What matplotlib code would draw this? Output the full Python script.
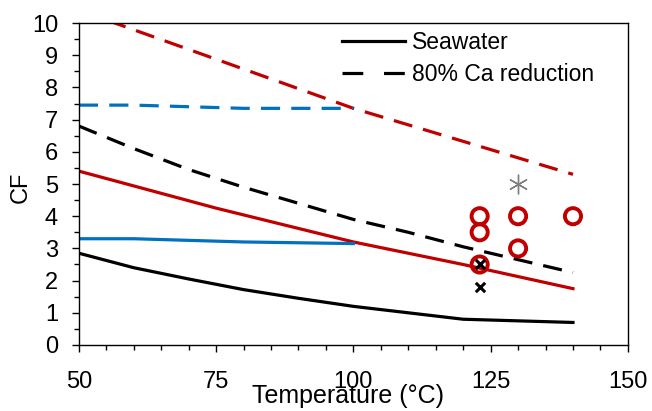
import matplotlib
matplotlib.use("Agg")
import matplotlib.pyplot as plt
from matplotlib.ticker import MultipleLocator

plt.rcParams['font.family'] = ['Liberation Sans', 'DejaVu Sans']

# Data
sw_black_x = [50, 60, 70, 80, 90, 100, 110, 120, 130, 140]
sw_black_y = [2.85, 2.4, 2.05, 1.72, 1.45, 1.2, 1.0, 0.8, 0.75, 0.7]
ca_black_x = [50, 60, 70, 80, 90, 100, 110, 120, 130, 140]
ca_black_y = [6.8, 6.1, 5.45, 4.9, 4.4, 3.9, 3.5, 3.05, 2.65, 2.25]
sw_red_x = [50, 75, 100, 120, 140]
sw_red_y = [5.4, 4.25, 3.2, 2.5, 1.75]
ca_red_x = [50, 100, 140]
ca_red_y = [10.4, 7.35, 5.3]
sw_blue_x = [50, 60, 80, 100]
sw_blue_y = [3.3, 3.3, 3.2, 3.15]
ca_blue_x = [50, 60, 80, 100]
ca_blue_y = [7.45, 7.45, 7.35, 7.35]
circ_x = [123, 123, 130, 130, 140, 123]
circ_y = [4.0, 3.5, 4.0, 3.0, 4.0, 2.5]
cross_x = [123, 123]
cross_y = [2.5, 1.8]
star_x = [130]
star_y = [5.0]

RED = '#C00000'
BLUE = '#0070C0'

fig = plt.figure(figsize=(6.52, 4.11), dpi=100)
ax = fig.add_axes([0.121, 0.1606, 0.842, 0.7834])

dash = (0, (6, 3.5))
lw = 2.3
ax.plot(sw_black_x, sw_black_y, color='black', lw=lw, label='Seawater')
ax.plot(ca_black_x, ca_black_y, color='black', lw=lw, linestyle=dash, label='80% Ca reduction')
ax.plot(sw_red_x, sw_red_y, color=RED, lw=lw)
ax.plot(ca_red_x, ca_red_y, color=RED, lw=lw, linestyle=dash)
ax.plot(sw_blue_x, sw_blue_y, color=BLUE, lw=lw)
ax.plot(ca_blue_x, ca_blue_y, color=BLUE, lw=lw, linestyle=dash)

ax.scatter(circ_x, circ_y, s=135, facecolors='none', edgecolors=RED, linewidths=2.8, zorder=5)
ax.scatter(cross_x, cross_y, s=45, marker='x', color='black', linewidths=2.2, zorder=6)
ax.scatter(star_x, star_y, s=180, marker=(6, 2, 0), color='#808080', linewidths=1.0, zorder=6)

ax.set_xlim(50, 150)
ax.set_ylim(0, 10)
ax.xaxis.set_major_locator(MultipleLocator(25))
ax.xaxis.set_minor_locator(MultipleLocator(5))
ax.yaxis.set_major_locator(MultipleLocator(1))
ax.yaxis.set_minor_locator(MultipleLocator(0.5))
ax.tick_params(which='major', direction='out', length=5, width=1, labelsize=17)
ax.tick_params(which='minor', direction='out', length=3.5, width=1)
ax.tick_params(axis='y', which='major', pad=10)
ax.tick_params(axis='x', which='major', pad=14)

ax.set_xlabel('Temperature (°C)', fontsize=18)
ax.xaxis.set_label_coords(0.49, -0.12)
ax.set_ylabel('CF', fontsize=17)
ax.yaxis.set_label_coords(-0.086, 0.49)

for s in ax.spines.values():
    s.set_linewidth(1.0)

leg = ax.legend(loc='upper left', bbox_to_anchor=(0.479, 0.975), frameon=False, fontsize=16.5,
                handlelength=2.75, handletextpad=0.3, labelspacing=0.4,
                borderpad=0, borderaxespad=0)
leg.get_lines()[1].set_linestyle((0, (6.5, 6.5)))

fig.savefig('out.png', dpi=100)
